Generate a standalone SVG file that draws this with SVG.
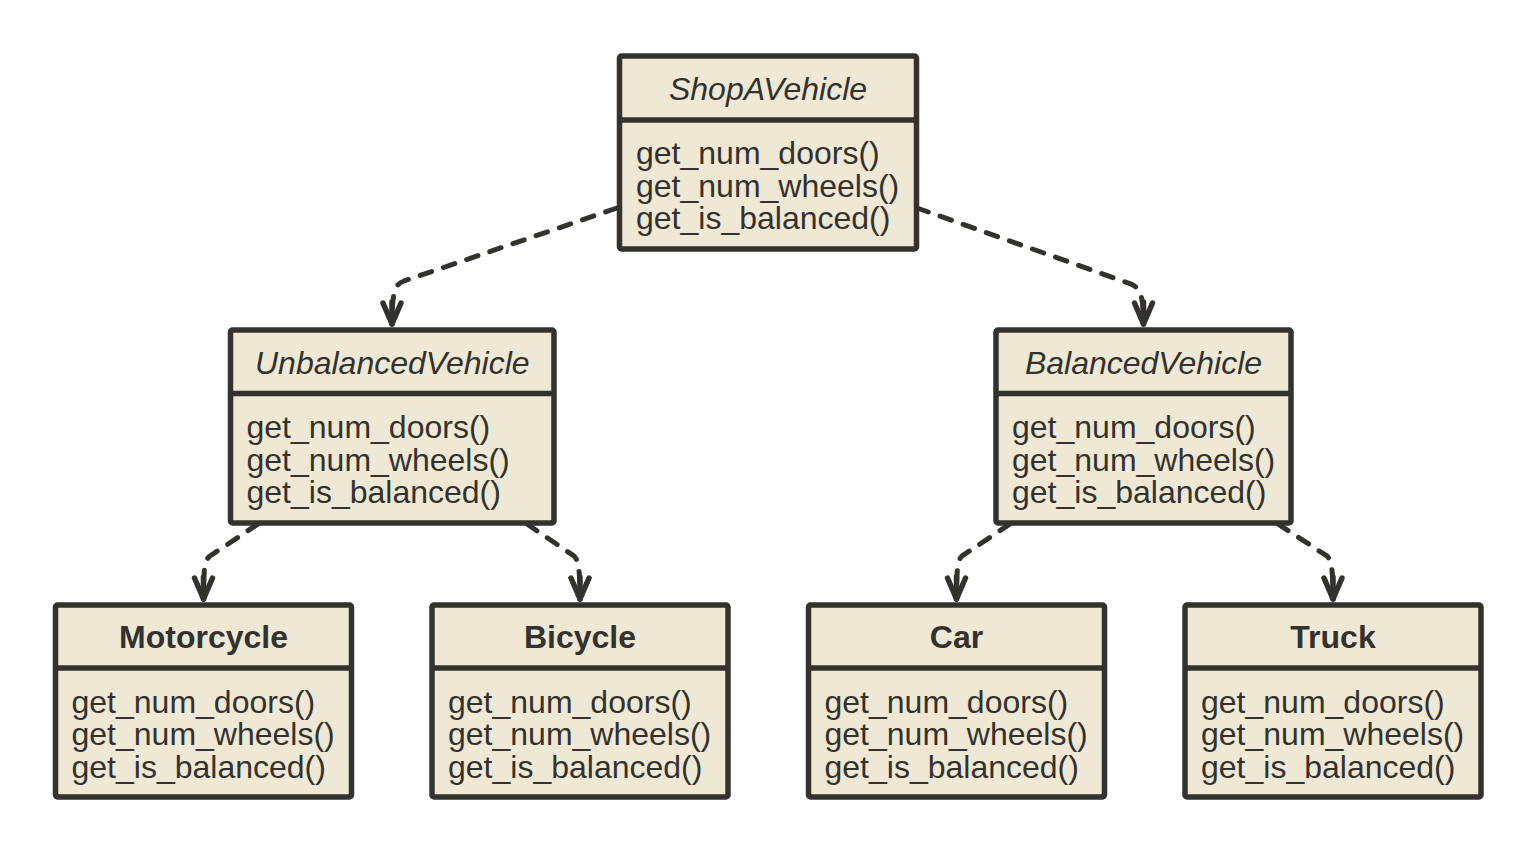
<svg xmlns="http://www.w3.org/2000/svg" width="1536" height="854" viewBox="0 0 1536 854">
<style>
.box{fill:#EEE8D5;stroke:#33322E;stroke-width:5.5}
.div{stroke:#33322E;stroke-width:5.5}
.t{font-family:"Liberation Sans",Arial,Helvetica,sans-serif;font-size:32px;fill:#33322E}
.h{text-anchor:middle}
.i{font-style:italic}
.b{font-weight:bold}
.edge{fill:none;stroke:#33322E;stroke-width:5;stroke-linecap:round;stroke-dasharray:12 12.5}
.ah{fill:none;stroke:#33322E;stroke-width:5.5;stroke-linejoin:round;stroke-linecap:round}
</style>
<defs>
<marker id="arr" markerUnits="userSpaceOnUse" orient="auto" refX="0" refY="0" markerWidth="40" markerHeight="40" viewBox="-30 -20 40 40" overflow="visible">
<path class="ah" d="M-21,-9 L0,0 L-21,9"/>
<path class="ah" d="M-22,0 L0,0"/>
</marker>
</defs>
<rect width="1536" height="854" fill="#FFFFFF"/>
<g id="connectors">
<path class="edge" marker-end="url(#arr)" d="M617,208 L404,281 C395,284 392,292 392,324"/>
<path class="edge" marker-end="url(#arr)" d="M917,208 L1131,284 C1140,288 1143.5,295 1143.5,324"/>
<path class="edge" marker-end="url(#arr)" d="M258,524 L210,556 C205,560 203.5,566 203.5,599"/>
<path class="edge" marker-end="url(#arr)" d="M527,524 L574,556 C578,560 580,566 580,599"/>
<path class="edge" marker-end="url(#arr)" d="M1010,524 L962,556 C958,560 956.5,566 956.5,599"/>
<path class="edge" marker-end="url(#arr)" d="M1278,524 L1327,556 C1331,560 1333,566 1333,599"/>
</g>
<g id="ShopAVehicle">
<rect class="box" x="619.5" y="56" width="297" height="193" rx="2"/>
<line class="div" x1="619.5" y1="120" x2="916.5" y2="120"/>
<text class="t h i" x="768" y="100">ShopAVehicle</text>
<text class="t" x="636" y="164">get_num_doors()</text>
<text class="t" x="636" y="196.5">get_num_wheels()</text>
<text class="t" x="636" y="229">get_is_balanced()</text>
</g>
<g id="UnbalancedVehicle">
<rect class="box" x="230.5" y="330" width="323.5" height="193" rx="2"/>
<line class="div" x1="230.5" y1="393.5" x2="554" y2="393.5"/>
<text class="t h i" x="392.25" y="373.5">UnbalancedVehicle</text>
<text class="t" x="246.5" y="438">get_num_doors()</text>
<text class="t" x="246.5" y="470.5">get_num_wheels()</text>
<text class="t" x="246.5" y="503">get_is_balanced()</text>
</g>
<g id="BalancedVehicle">
<rect class="box" x="996" y="330" width="295" height="193" rx="2"/>
<line class="div" x1="996" y1="393.5" x2="1291" y2="393.5"/>
<text class="t h i" x="1143.5" y="373.5">BalancedVehicle</text>
<text class="t" x="1012" y="438">get_num_doors()</text>
<text class="t" x="1012" y="470.5">get_num_wheels()</text>
<text class="t" x="1012" y="503">get_is_balanced()</text>
</g>
<g id="Motorcycle">
<rect class="box" x="55.5" y="605" width="296" height="192" rx="2"/>
<line class="div" x1="55.5" y1="668" x2="351.5" y2="668"/>
<text class="t h b" x="203.5" y="648">Motorcycle</text>
<text class="t" x="71.5" y="712.5">get_num_doors()</text>
<text class="t" x="71.5" y="745">get_num_wheels()</text>
<text class="t" x="71.5" y="777.5">get_is_balanced()</text>
</g>
<g id="Bicycle">
<rect class="box" x="432" y="605" width="296" height="192" rx="2"/>
<line class="div" x1="432" y1="668" x2="728" y2="668"/>
<text class="t h b" x="580" y="648">Bicycle</text>
<text class="t" x="448" y="712.5">get_num_doors()</text>
<text class="t" x="448" y="745">get_num_wheels()</text>
<text class="t" x="448" y="777.5">get_is_balanced()</text>
</g>
<g id="Car">
<rect class="box" x="808.5" y="605" width="296" height="192" rx="2"/>
<line class="div" x1="808.5" y1="668" x2="1104.5" y2="668"/>
<text class="t h b" x="956.5" y="648">Car</text>
<text class="t" x="824.5" y="712.5">get_num_doors()</text>
<text class="t" x="824.5" y="745">get_num_wheels()</text>
<text class="t" x="824.5" y="777.5">get_is_balanced()</text>
</g>
<g id="Truck">
<rect class="box" x="1185" y="605" width="296" height="192" rx="2"/>
<line class="div" x1="1185" y1="668" x2="1481" y2="668"/>
<text class="t h b" x="1333" y="648">Truck</text>
<text class="t" x="1201" y="712.5">get_num_doors()</text>
<text class="t" x="1201" y="745">get_num_wheels()</text>
<text class="t" x="1201" y="777.5">get_is_balanced()</text>
</g>
</svg>
